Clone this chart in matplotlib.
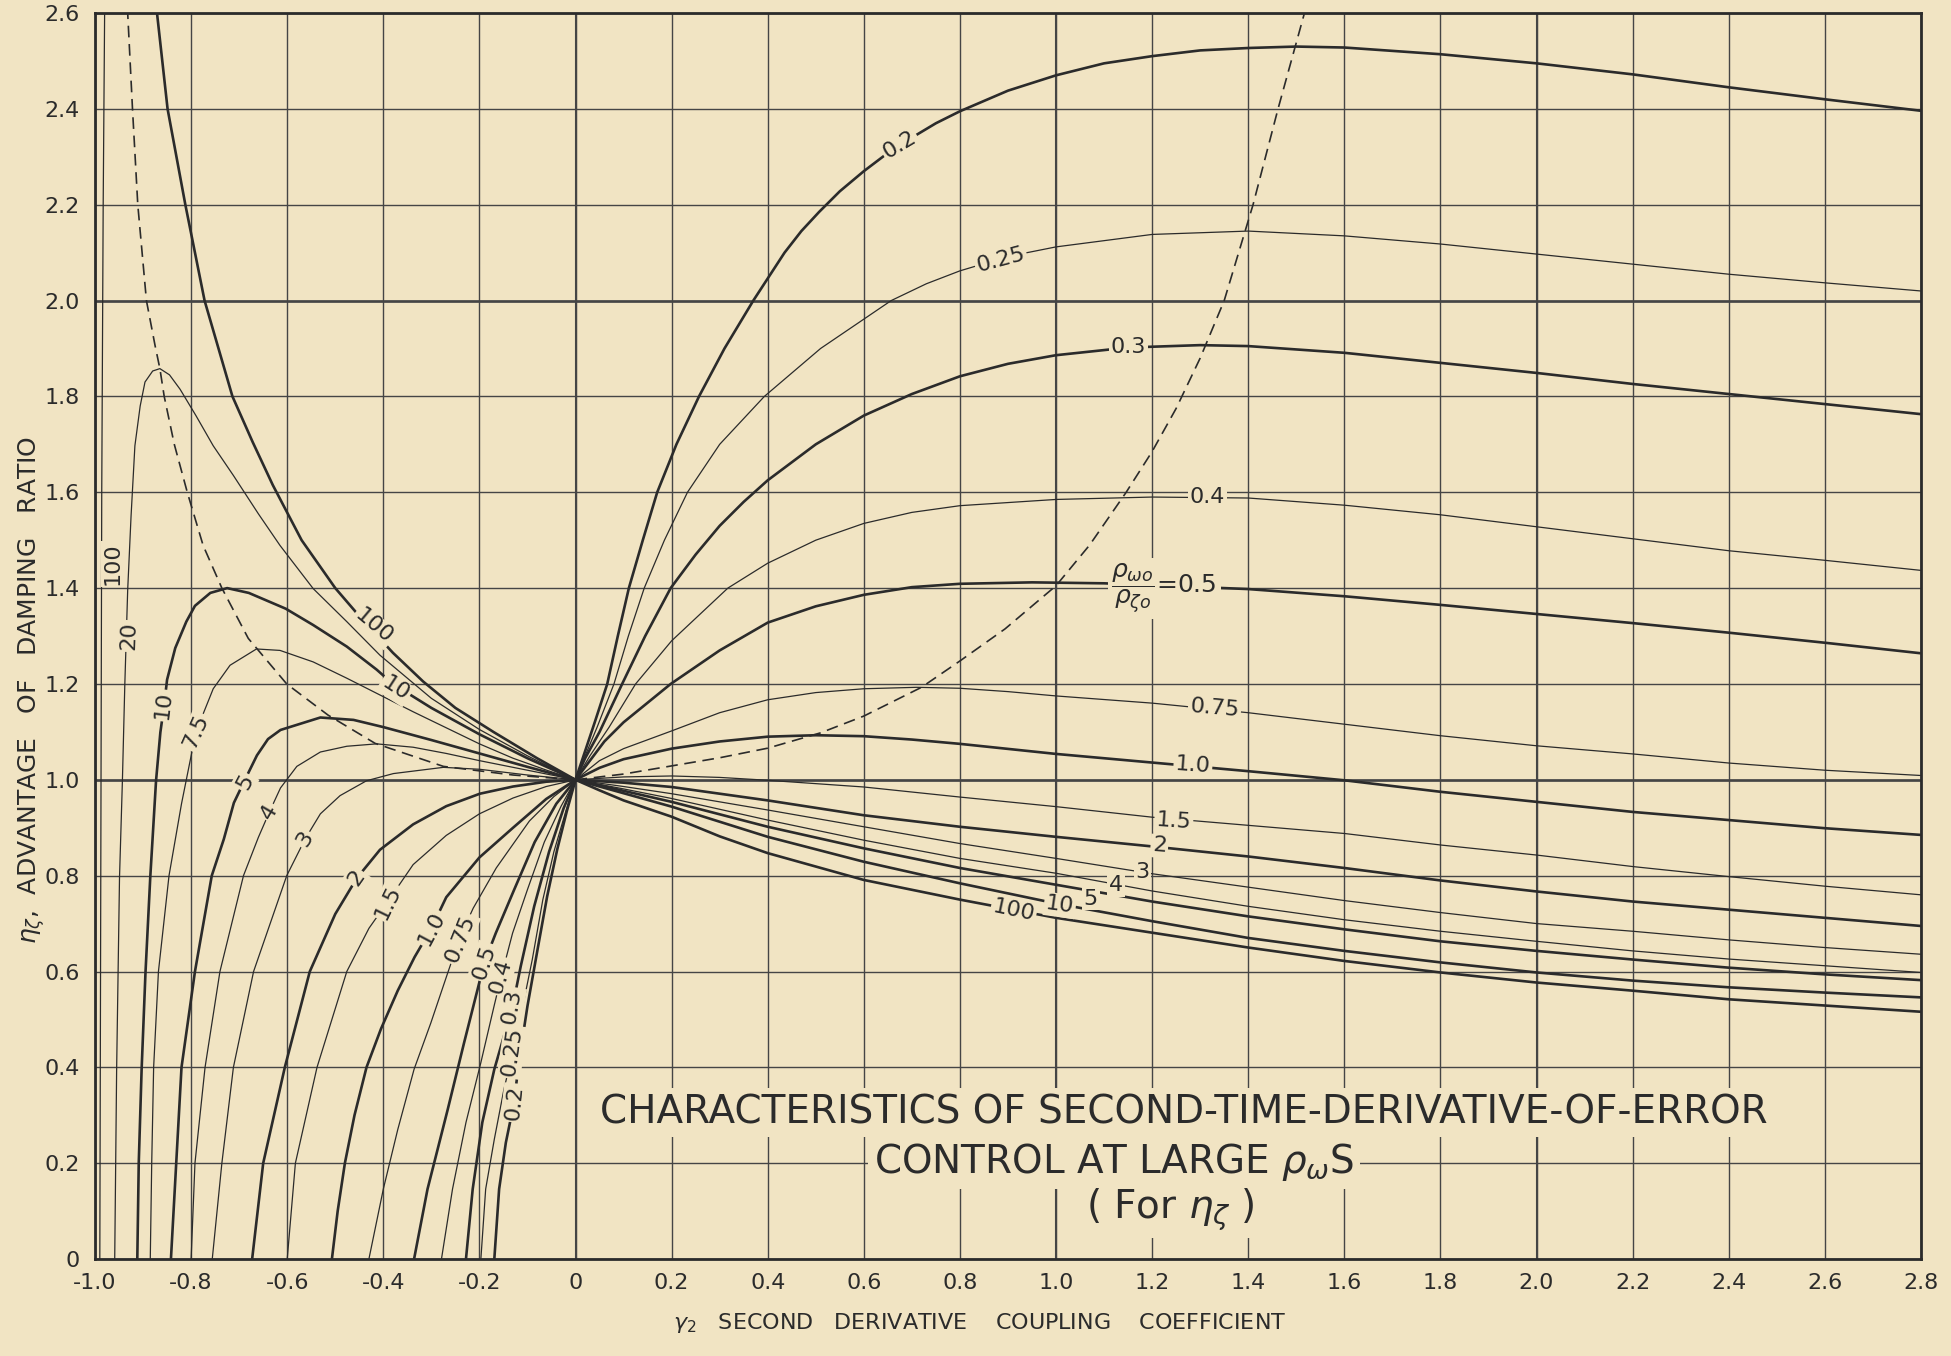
import numpy as np
import matplotlib
matplotlib.use("Agg")
import matplotlib.pyplot as plt

plt.rcParams['font.family'] = ['DejaVu Sans']
plt.rcParams['mathtext.fontset'] = 'dejavusans'
plt.rcParams['axes.unicode_minus'] = False

BG = "#F1E4C3"
INK = "#2b2b2b"
GRID = "#454545"

# ---------------- axis ticks ----------------
x_ticks = [-1.0, -0.8, -0.6, -0.4, -0.2, 0.0, 0.2, 0.4, 0.6, 0.8, 1.0,
           1.2, 1.4, 1.6, 1.8, 2.0, 2.2, 2.4, 2.6, 2.8]
x_tick_labels = ["-1.0", "-0.8", "-0.6", "-0.4", "-0.2", "0", "0.2", "0.4", "0.6", "0.8",
                 "1.0", "1.2", "1.4", "1.6", "1.8", "2.0", "2.2", "2.4", "2.6", "2.8"]
y_ticks = [0.0, 0.2, 0.4, 0.6, 0.8, 1.0, 1.2, 1.4, 1.6, 1.8, 2.0, 2.2, 2.4, 2.6]
y_tick_labels = ["0", "0.2", "0.4", "0.6", "0.8", "1.0", "1.2", "1.4", "1.6", "1.8",
                 "2.0", "2.2", "2.4", "2.6"]

# ---------------- curves (ratio rho_wo / rho_zo) ----------------
x_02 = [-0.169, -0.159, -0.145, -0.128, -0.118, -0.100, -0.079, -0.059, -0.038, -0.018, 0.0,
        0.02, 0.04, 0.066, 0.088, 0.111, 0.14, 0.17, 0.21, 0.257, 0.31, 0.37, 0.435, 0.47,
        0.507, 0.55, 0.6, 0.65, 0.7, 0.75, 0.8, 0.9, 1.0, 1.1, 1.2, 1.3, 1.4, 1.5, 1.6, 1.8,
        2.0, 2.2, 2.4, 2.6, 2.8]
y_02 = [0.0, 0.146, 0.243, 0.326, 0.41, 0.528, 0.646, 0.757, 0.855, 0.935, 1.0,
        1.06, 1.12, 1.2, 1.3, 1.4, 1.5, 1.6, 1.7, 1.8, 1.9, 2.0, 2.1, 2.145,
        2.185, 2.228, 2.27, 2.308, 2.34, 2.37, 2.395, 2.438, 2.47, 2.495, 2.51, 2.522, 2.527,
        2.53, 2.528, 2.514, 2.495, 2.472, 2.445, 2.42, 2.396]

x_025 = [-0.197, -0.187, -0.169, -0.149, -0.131, -0.114, -0.090, -0.068, -0.045, -0.020, 0.0,
         0.02, 0.045, 0.08, 0.11, 0.143, 0.185, 0.233, 0.30, 0.393, 0.51, 0.657, 0.73, 0.80,
         0.9, 1.0, 1.2, 1.4, 1.6, 1.8, 2.0, 2.2, 2.4, 2.6, 2.8]
y_025 = [0.0, 0.146, 0.25, 0.354, 0.43, 0.507, 0.625, 0.75, 0.85, 0.935, 1.0,
         1.05, 1.11, 1.2, 1.3, 1.4, 1.5, 1.6, 1.7, 1.8, 1.9, 2.0, 2.035, 2.062,
         2.092, 2.112, 2.138, 2.145, 2.135, 2.118, 2.097, 2.076, 2.055, 2.037, 2.02]

x_03 = [-0.228, -0.214, -0.194, -0.169, -0.145, -0.131, -0.114, -0.086, -0.055, -0.025, 0.0,
        0.02, 0.05, 0.097, 0.145, 0.198, 0.25, 0.3, 0.35, 0.4, 0.5, 0.6, 0.7, 0.8, 0.9, 1.0,
        1.15, 1.3, 1.4, 1.6, 1.8, 2.0, 2.2, 2.4, 2.6, 2.8]
y_03 = [0.0, 0.146, 0.285, 0.396, 0.479, 0.527, 0.611, 0.736, 0.85, 0.94, 1.0,
        1.045, 1.1, 1.2, 1.3, 1.4, 1.47, 1.53, 1.58, 1.625, 1.70, 1.76, 1.805, 1.842, 1.868,
        1.886, 1.902, 1.907, 1.905, 1.891, 1.870, 1.849, 1.826, 1.805, 1.784, 1.763]

x_04 = [-0.279, -0.256, -0.228, -0.197, -0.169, -0.156, -0.131, -0.100, -0.065, -0.03, 0.0,
        0.03, 0.07, 0.125, 0.2, 0.317, 0.4, 0.5, 0.6, 0.7, 0.8, 1.0, 1.2, 1.4, 1.6, 1.8,
        2.0, 2.2, 2.4, 2.6, 2.8]
y_04 = [0.0, 0.146, 0.285, 0.41, 0.53, 0.584, 0.68, 0.771, 0.87, 0.945, 1.0,
        1.05, 1.11, 1.2, 1.29, 1.4, 1.452, 1.5, 1.535, 1.558, 1.572, 1.585, 1.59, 1.588, 1.573,
        1.553, 1.528, 1.503, 1.478, 1.458, 1.437]

x_05 = [-0.336, -0.308, -0.266, -0.232, -0.204, -0.19, -0.166, -0.128, -0.085, -0.04, 0.0,
        0.03, 0.06, 0.1, 0.198, 0.3, 0.4, 0.5, 0.6, 0.7, 0.8, 0.95, 1.1, 1.4, 1.6, 1.8,
        2.0, 2.2, 2.4, 2.6, 2.8]
y_05 = [0.0, 0.146, 0.312, 0.451, 0.562, 0.618, 0.68, 0.77, 0.87, 0.95, 1.0,
        1.04, 1.08, 1.12, 1.2, 1.27, 1.328, 1.362, 1.386, 1.402, 1.409, 1.412, 1.41, 1.398,
        1.383, 1.365, 1.346, 1.327, 1.307, 1.286, 1.264]

x_075 = [-0.43, -0.40, -0.37, -0.336, -0.301, -0.266, -0.24, -0.213, -0.165, -0.096, -0.045, 0.0,
         0.05, 0.1, 0.2, 0.3, 0.4, 0.5, 0.6, 0.71, 0.8, 0.9, 1.0, 1.2, 1.4, 1.6, 1.8, 2.0,
         2.2, 2.4, 2.6, 2.8]
y_075 = [0.0, 0.146, 0.27, 0.396, 0.493, 0.597, 0.673, 0.732, 0.816, 0.914, 0.965, 1.0,
         1.04, 1.065, 1.102, 1.14, 1.167, 1.182, 1.19, 1.193, 1.191, 1.184, 1.175, 1.16, 1.14,
         1.116, 1.092, 1.071, 1.054, 1.035, 1.02, 1.009]

x_1 = [-0.507, -0.495, -0.48, -0.46, -0.435, -0.405, -0.37, -0.335, -0.30, -0.269, -0.2, -0.13,
       -0.061, 0.0, 0.05, 0.1, 0.2, 0.3, 0.4, 0.5, 0.6, 0.7, 0.8, 1.0, 1.2, 1.4, 1.6, 1.8,
       2.0, 2.2, 2.4, 2.6, 2.8]
y_1 = [0.0, 0.1, 0.2, 0.3, 0.4, 0.48, 0.56, 0.63, 0.69, 0.755, 0.838, 0.9,
       0.96, 1.0, 1.025, 1.043, 1.065, 1.08, 1.09, 1.093, 1.091, 1.084, 1.075, 1.054, 1.036,
       1.018, 0.999, 0.975, 0.954, 0.933, 0.916, 0.899, 0.885]

x_15 = [-0.60, -0.583, -0.538, -0.476, -0.43, -0.39, -0.338, -0.269, -0.2, -0.13, -0.061, 0.0,
        0.1, 0.2, 0.3, 0.4, 0.6, 0.8, 1.0, 1.2, 1.4, 1.6, 1.8, 2.0, 2.2, 2.4, 2.6, 2.8]
y_15 = [0.0, 0.2, 0.4, 0.6, 0.69, 0.747, 0.823, 0.884, 0.929, 0.962, 0.986, 1.0,
        1.006, 1.008, 1.005, 0.999, 0.985, 0.964, 0.944, 0.922, 0.905, 0.888, 0.864, 0.843,
        0.819, 0.798, 0.778, 0.76]

x_2 = [-0.673, -0.65, -0.605, -0.553, -0.50, -0.455, -0.407, -0.338, -0.269, -0.199, -0.13,
       -0.061, 0.0, 0.1, 0.2, 0.4, 0.6, 0.8, 1.0, 1.2, 1.4, 1.6, 1.8, 2.0, 2.2, 2.4, 2.6, 2.8]
y_2 = [0.0, 0.2, 0.4, 0.6, 0.72, 0.795, 0.854, 0.907, 0.945, 0.971, 0.986,
       0.996, 1.0, 0.994, 0.985, 0.957, 0.926, 0.902, 0.881, 0.861, 0.84, 0.816, 0.79, 0.767,
       0.746, 0.729, 0.712, 0.695]

x_3 = [-0.756, -0.736, -0.712, -0.67, -0.601, -0.563, -0.531, -0.49, -0.435, -0.379, -0.275,
       -0.2, -0.1, 0.0, 0.1, 0.2, 0.4, 0.6, 0.8, 1.0, 1.2, 1.4, 1.6, 1.8, 2.0, 2.2, 2.4, 2.6, 2.8]
y_3 = [0.0, 0.2, 0.4, 0.6, 0.8, 0.876, 0.929, 0.967, 0.998, 1.013, 1.026,
       1.022, 1.01, 1.0, 0.986, 0.971, 0.937, 0.902, 0.867, 0.836, 0.804, 0.776, 0.748, 0.723,
       0.70, 0.684, 0.666, 0.65, 0.636]

x_4 = [-0.80, -0.792, -0.771, -0.74, -0.691, -0.66, -0.637, -0.614, -0.58, -0.531, -0.476,
       -0.414, -0.338, -0.269, -0.2, -0.1, 0.0, 0.1, 0.2, 0.4, 0.6, 0.8, 1.0, 1.2, 1.4, 1.6,
       1.8, 2.0, 2.2, 2.4, 2.6, 2.8]
y_4 = [0.0, 0.2, 0.4, 0.6, 0.8, 0.88, 0.933, 0.983, 1.028, 1.058, 1.07,
       1.075, 1.068, 1.055, 1.04, 1.02, 1.0, 0.981, 0.961, 0.916, 0.874, 0.836, 0.805, 0.768,
       0.736, 0.708, 0.684, 0.663, 0.643, 0.626, 0.612, 0.598]

x_5 = [-0.842, -0.831, -0.82, -0.792, -0.757, -0.732, -0.711, -0.688, -0.663, -0.64, -0.614,
       -0.531, -0.462, -0.40, -0.30, -0.2, -0.1, 0.0, 0.1, 0.2, 0.4, 0.6, 0.8, 1.0, 1.2, 1.4,
       1.6, 1.8, 2.0, 2.2, 2.4, 2.6, 2.8]
y_5 = [0.0, 0.2, 0.4, 0.6, 0.8, 0.876, 0.952, 1.0, 1.051, 1.085, 1.104,
       1.13, 1.125, 1.11, 1.083, 1.055, 1.027, 1.0, 0.977, 0.954, 0.902, 0.857, 0.816, 0.781,
       0.746, 0.715, 0.688, 0.663, 0.643, 0.625, 0.608, 0.594, 0.582]

x_75 = [-0.885, -0.882, -0.878, -0.868, -0.846, -0.82, -0.79, -0.754, -0.719, -0.664, -0.615,
        -0.546, -0.476, -0.407, -0.338, -0.268, -0.2, -0.13, -0.06, 0.0]
y_75 = [0.0, 0.2, 0.4, 0.6, 0.8, 0.95, 1.10, 1.19, 1.239, 1.273, 1.27,
        1.246, 1.212, 1.177, 1.142, 1.108, 1.075, 1.045, 1.02, 1.0]

x_10 = [-0.912, -0.909, -0.903, -0.895, -0.885, -0.873, -0.864, -0.856, -0.85, -0.833, -0.81,
        -0.792, -0.76, -0.725, -0.68, -0.603, -0.546, -0.476, -0.414, -0.38, -0.30, -0.2, -0.1,
        0.0, 0.1, 0.2, 0.4, 0.6, 0.8, 1.0, 1.2, 1.4, 1.6, 1.8, 2.0, 2.2, 2.4, 2.6, 2.8]
y_10 = [0.0, 0.2, 0.396, 0.597, 0.797, 0.998, 1.099, 1.157, 1.209, 1.275, 1.33,
        1.363, 1.39, 1.40, 1.39, 1.357, 1.323, 1.278, 1.23, 1.2, 1.15, 1.095, 1.045,
        1.0, 0.972, 0.944, 0.881, 0.829, 0.784, 0.742, 0.705, 0.67, 0.643, 0.619, 0.598,
        0.581, 0.567, 0.556, 0.546]

x_20 = [-0.959, -0.955, -0.949, -0.943, -0.938, -0.932, -0.925, -0.917, -0.906, -0.896, -0.88,
        -0.865, -0.845, -0.823, -0.79, -0.754, -0.712, -0.66, -0.615, -0.546, -0.476, -0.407,
        -0.3, -0.2, -0.1, 0.0]
y_20 = [0.0, 0.396, 0.797, 0.998, 1.198, 1.396, 1.55, 1.697, 1.78, 1.83, 1.853,
        1.858, 1.845, 1.815, 1.76, 1.697, 1.635, 1.555, 1.489, 1.399, 1.33, 1.26,
        1.17, 1.105, 1.05, 1.0]

x_100_rise = [-0.99, -0.988, -0.986, -0.983, -0.98]
y_100_rise = [0.0, 0.8, 1.6, 2.2, 2.6]
x_100 = [-0.871, -0.849, -0.812, -0.772, -0.714, -0.672, -0.63, -0.57, -0.50, -0.44, -0.38,
         -0.317, -0.25, -0.171, -0.08, 0.0, 0.05, 0.1, 0.2, 0.3, 0.4, 0.6, 0.8, 1.0, 1.2, 1.4,
         1.6, 1.8, 2.0, 2.2, 2.4, 2.6, 2.8]
y_100 = [2.6, 2.4, 2.2, 2.0, 1.8, 1.705, 1.615, 1.5, 1.4, 1.33, 1.265,
         1.205, 1.15, 1.1, 1.045, 1.0, 0.978, 0.957, 0.923, 0.882, 0.847, 0.791, 0.75, 0.712,
         0.681, 0.65, 0.622, 0.598, 0.577, 0.56, 0.542, 0.529, 0.516]

# dashed locus of maxima
xd_left = [0.0, -0.13, -0.275, -0.417, -0.515, -0.601, -0.681, -0.736, -0.775, -0.808, -0.835,
           -0.856, -0.865, -0.875, -0.893, -0.911, -0.922, -0.932]
yd_left = [1.0, 1.01, 1.028, 1.076, 1.135, 1.2, 1.295, 1.4, 1.489, 1.6, 1.7,
           1.8, 1.858, 1.906, 2.0, 2.2, 2.4, 2.6]
xd_right = [0.0, 0.1, 0.2, 0.3, 0.4, 0.51, 0.6, 0.72, 0.8, 0.894, 1.0, 1.07, 1.146, 1.2,
            1.25, 1.3, 1.35, 1.41, 1.462, 1.517]
yd_right = [1.0, 1.012, 1.029, 1.046, 1.066, 1.098, 1.133, 1.193, 1.248, 1.315, 1.405, 1.49,
            1.6, 1.685, 1.775, 1.88, 2.0, 2.2, 2.4, 2.6]

# (x, y, bold?)
curves = [
    (x_02, y_02, True), (x_025, y_025, False), (x_03, y_03, True), (x_04, y_04, False),
    (x_05, y_05, True), (x_075, y_075, False), (x_1, y_1, True), (x_15, y_15, False),
    (x_2, y_2, True), (x_3, y_3, False), (x_4, y_4, False), (x_5, y_5, True),
    (x_75, y_75, False), (x_10, y_10, True), (x_20, y_20, False),
    (x_100_rise, y_100_rise, False), (x_100, y_100, True),
]

# curve labels: text, x, y, rotation
curve_labels = [
    ("100", -0.963, 1.45, 90), ("20", -0.930, 1.30, 88), ("10", -0.857, 1.155, 83),
    ("7.5", -0.790, 1.10, 66), ("5", -0.688, 0.995, 62), ("4", -0.637, 0.933, 60),
    ("3", -0.563, 0.876, 58), ("2", -0.455, 0.795, 55), ("1.5", -0.390, 0.745, 64),
    ("1.0", -0.300, 0.690, 62), ("0.75", -0.240, 0.668, 68), ("0.5", -0.190, 0.620, 72),
    ("0.4", -0.155, 0.590, 74), ("0.3", -0.132, 0.527, 80), ("0.25", -0.132, 0.432, 82),
    ("0.2", -0.128, 0.326, 84),
    ("100", -0.420, 1.320, -40), ("10", -0.375, 1.190, -33),
    ("0.2", 0.675, 2.325, 31), ("0.25", 0.885, 2.085, 15), ("0.3", 1.150, 1.903, 0),
    ("0.4", 1.315, 1.590, 0), ("0.75", 1.330, 1.150, -5), ("1.0", 1.285, 1.031, -4),
    ("1.5", 1.245, 0.914, -4), ("2", 1.215, 0.862, -4), ("3", 1.180, 0.808, 0),
    ("4", 1.125, 0.780, 0), ("5", 1.072, 0.752, 0), ("10", 1.008, 0.738, -8),
    ("100", 0.912, 0.728, -12),
]

title_lines = [
    ("CHARACTERISTICS OF SECOND-TIME-DERIVATIVE-OF-ERROR", 1.265, 0.306),
    (r"CONTROL AT LARGE $\rho_\omega$S", 1.12, 0.203),
    (r"( For $\eta_\zeta$ )", 1.238, 0.104),
]

# ---------------- figure ----------------
fig = plt.figure(figsize=(19.51, 13.56), dpi=100, facecolor=BG)
ax = fig.add_axes([0.0487, 0.0715, 0.9359, 0.9189])
ax.set_facecolor(BG)
ax.set_xlim(-1.0, 2.8)
ax.set_ylim(0.0, 2.6)

ax.set_xticks(x_ticks)
ax.set_xticklabels(x_tick_labels)
ax.set_yticks(y_ticks)
ax.set_yticklabels(y_tick_labels)
ax.tick_params(length=0, labelsize=16, colors=INK)
ax.tick_params(axis='x', pad=10)
ax.tick_params(axis='y', pad=11)

ax.grid(True, color=GRID, lw=1.0, zorder=0.5)
ax.set_axisbelow(True)
for yy in (1.0, 2.0):
    ax.axhline(yy, color=GRID, lw=1.9, zorder=0.6)
for xx in (0.0, 1.0, 2.0):
    ax.axvline(xx, color=GRID, lw=1.5, zorder=0.6)
for s in ax.spines.values():
    s.set_color(INK)
    s.set_linewidth(2.0)

for xs, ys, bold in curves:
    ax.plot(xs, ys, color=INK, lw=1.9 if bold else 0.9, solid_joinstyle='round',
            solid_capstyle='round', zorder=2)

ax.plot(xd_left, yd_left, color=INK, lw=1.2, linestyle=(0, (7, 4)), zorder=2)
ax.plot(xd_right, yd_right, color=INK, lw=1.2, linestyle=(0, (7, 4)), zorder=2)

box = dict(boxstyle='square,pad=0.08', fc=BG, ec='none')
for txt, tx, ty, rot in curve_labels:
    ax.text(tx, ty, txt, fontsize=16, color=INK, rotation=rot, ha='center', va='center',
            rotation_mode='anchor', bbox=box, zorder=3)

ax.text(1.225, 1.40, r"$\dfrac{\rho_{\omega o}}{\rho_{\zeta o}}$=0.5", fontsize=18, color=INK,
        ha='center', va='center', bbox=dict(boxstyle='square,pad=0.15', fc=BG, ec='none'),
        zorder=3)

for txt, tx, ty in title_lines:
    ax.text(tx, ty, txt, fontsize=28, color=INK, ha='center', va='center',
            bbox=dict(boxstyle='square,pad=0.15', fc=BG, ec='none'), zorder=3)

fig.text(0.0164, 0.491, r"$\eta_\zeta$,  ADVANTAGE   OF   DAMPING   RATIO", rotation=90,
         fontsize=18, color=INK, ha='center', va='center')
fig.text(0.502, 0.024, r"$\gamma_2$   SECOND   DERIVATIVE    COUPLING    COEFFICIENT",
         fontsize=16, color=INK, ha='center', va='center')

fig.savefig("out.png", dpi=100, facecolor=BG)
